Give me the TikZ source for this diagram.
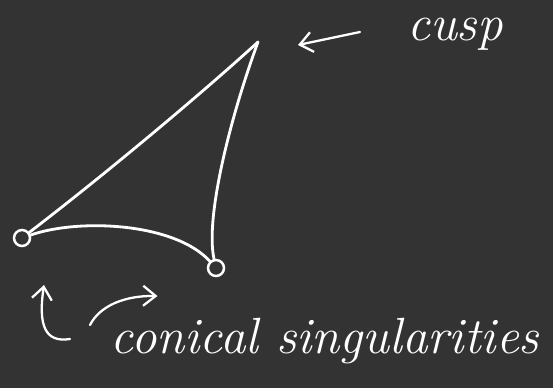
\documentclass[tikz,border=0pt]{standalone}
\usetikzlibrary{arrows.meta}
\definecolor{pizarra}{RGB}{51,51,51}
\begin{document}
\begin{tikzpicture}[
  trazo/.style={draw=white, line width=1.6pt, line cap=round},
  conico/.style={draw=white, line width=1.4pt, circle, minimum size=3.2mm, inner sep=0pt},
  flecha/.style={trazo, line width=1.3pt, -{Straight Barb[length=2.5mm, width=4mm]}},
  texto/.style={text=white, font=\fontsize{29}{33}\selectfont\itshape, anchor=base, inner sep=1pt}
]
\fill[pizarra] (0,0) rectangle (11.06,7.76);
\useasboundingbox (0,0) rectangle (11.06,7.76);
\coordinate (cusp) at (5.16,6.92);
\node[conico] (izq) at (0.44,3.00) {};
\node[conico] (der) at (4.32,2.40) {};
\draw[trazo] (izq) .. controls (2.2,4.35) and (4.1,5.95) .. (cusp);
\draw[trazo] (cusp) .. controls (4.6,5.4) and (4.1,3.4) .. (der);
\draw[trazo] (izq) .. controls (1.6,3.4) and (3.5,3.3) .. (der);
\node[texto] (lcusp) at (9.1,6.95) {cusp};
\coordinate (c1) at (7.2,7.12);
\coordinate (c2) at (5.96,6.86);
\draw[flecha] (c1) -- (c2);
\node[texto] (lconico) at (6.5,0.7) {conical singularities};
\coordinate (g1) at (1.4,0.98);
\coordinate (g2) at (0.88,2.06);
\draw[flecha] (g1) .. controls (0.9,0.9) and (0.76,1.25) .. (g2);
\coordinate (h1) at (1.8,1.26);
\coordinate (h2) at (3.15,1.84);
\draw[flecha] (h1) .. controls (2.0,1.65) and (2.5,1.85) .. (h2);
\end{tikzpicture}
\end{document}
